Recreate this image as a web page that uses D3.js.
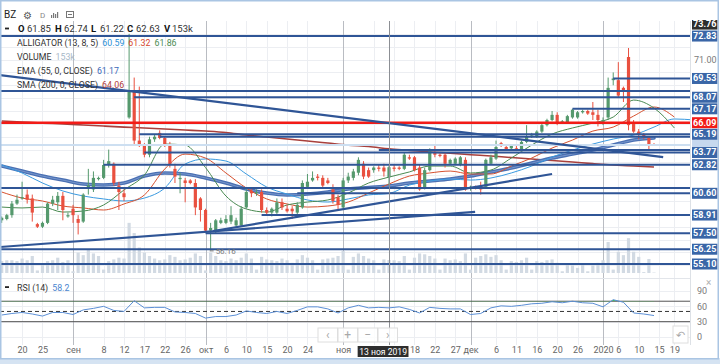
<!DOCTYPE html>
<html lang="ru">
<head>
<meta charset="UTF-8">
<meta name="viewport" content="width=device-width, initial-scale=1.0">
<title>BZ</title>
<style>
  html, body { margin: 0; padding: 0; background: #fff; overflow: hidden; }
  svg { display: block; font-family: Roboto, "Noto Sans", Arial, sans-serif; }
</style>
</head>
<body>
<svg id="chart" width="720" height="364"></svg>
<script src="https://d3js.org/d3.v7.min.js"></script>
<script>
// daily sessions from 15 Aug 2019, [open, high, low, close]
const candles = [
  [58.5,58.8,58.3,58.7],[58.6,59.0,58.5,58.9],[58.9,60.0,58.7,59.8],[59.8,60.5,59.7,60.1],[60.2,61.5,60.1,60.3],
  [60.5,60.9,59.8,60.1],[60.2,60.5,58.4,59.1],[58.2,58.3,57.9,58.0],[58.0,58.4,57.9,58.3],[58.3,59.9,58.2,59.8],
  [59.8,60.4,59.6,60.1],[59.9,60.7,59.3,60.4],[60.4,60.7,58.5,59.3],[58.8,59.1,58.7,58.9],[59.4,59.7,58.3,58.9],
  [58.6,58.9,57.4,58.3],[58.4,60.6,58.3,60.5],[61.0,62.5,60.5,61.2],[60.9,62.3,60.7,61.8],[61.7,61.9,61.6,61.8],
  [61.8,63.2,61.7,62.8],[62.8,64.0,62.6,63.1],[62.9,63.0,61.2,61.4],[61.2,61.5,59.3,60.7],[60.6,60.9,60.0,60.3],
  [66.5,73.0,66.4,68.5],[68.5,69.6,64.4,64.7],[64.7,68.9,64.2,64.4],[64.3,64.5,63.4,63.6],[63.6,65.0,63.4,64.8],
  [64.8,65.2,64.6,65.0],[65.3,65.5,64.8,64.9],[64.9,65.0,64.2,64.4],[64.4,64.6,62.6,62.8],[62.5,62.9,61.4,61.9],
  [61.7,62.2,60.6,61.8],[61.6,61.8,59.9,61.4],[61.6,61.7,61.3,61.4],[61.4,61.7,58.9,59.5],[60.2,60.3,58.4,59.3],
  [59.3,59.4,57.6,57.7],[57.7,58.3,56.16,57.9],[57.7,58.6,57.5,58.5],[58.3,58.7,58.2,58.5],[58.3,58.9,58.2,58.6],
  [58.4,59.6,58.2,58.9],[58.1,58.7,58.0,58.5],[58.1,59.6,58.0,59.4],[59.5,61.0,59.4,60.7],[60.8,61.0,60.3,60.6],
  [60.6,60.9,60.4,60.7],[60.7,60.9,59.1,59.3],[59.3,59.5,58.9,59.1],[59.1,59.5,58.8,59.4],[59.1,60.2,59.0,59.9],
  [59.9,60.2,59.3,59.5],[59.4,59.7,59.1,59.2],[59.4,59.6,58.6,59.2],[59.1,59.9,58.9,59.7],[59.5,61.6,59.4,61.4],
  [61.1,62.1,61.0,61.5],[61.6,62.3,61.5,61.8],[61.9,62.1,61.6,61.8],[61.8,62.0,61.0,61.2],[61.6,61.8,61.3,61.4],
  [60.9,61.3,59.8,60.0],[60.3,60.5,59.3,59.7],[59.5,61.8,59.4,61.6],[61.6,62.2,61.4,61.9],[61.8,62.5,61.6,62.3],
  [62.2,63.4,62.0,63.2],[62.9,63.1,61.7,61.9],[62.4,62.6,61.8,61.9],[62.4,62.7,62.2,62.6],[62.6,62.8,62.3,62.5],
  [62.6,62.9,61.9,62.3],[61.85,62.74,61.22,62.63],[62.6,62.8,62.3,62.5],[62.6,62.7,62.4,62.5],[62.5,63.8,62.4,63.6],
  [63.4,63.6,63.2,63.3],[63.4,63.5,62.3,62.4],[62.6,62.8,60.8,60.9],[61.0,62.6,60.9,62.4],[62.4,64.1,62.3,63.96],
  [63.8,64.3,63.4,63.6],[63.6,63.7,63.4,63.5],[63.6,63.8,62.6,62.9],[62.9,63.3,62.8,63.2],[62.9,63.4,62.8,63.3],
  [62.8,63.5,62.7,63.4],[63.2,63.4,60.8,60.9],[61.0,61.2,60.8,61.1],[61.1,61.2,60.9,61.0],[61.1,61.5,60.5,60.9],
  [61.1,63.3,61.0,63.2],[62.9,63.6,62.8,63.4],[63.3,64.7,63.2,64.2],[64.5,64.6,64.2,64.4],[64.2,64.4,63.9,64.0],
  [64.1,64.4,64.0,64.3],[64.1,64.3,63.9,64.0],[64.0,64.7,63.9,64.6],[64.6,65.9,64.5,65.0],[65.0,65.3,64.9,65.1],
  [65.0,65.5,64.9,65.4],[65.4,66.0,65.3,65.9],[65.9,66.4,65.8,66.3],[66.3,67.0,66.2,66.7],[66.7,66.9,65.9,66.1],
  [66.2,66.3,66.1,66.2],[66.1,66.7,66.0,66.6],[66.5,67.17,66.4,67.1],[66.5,67.0,66.4,66.9],[66.9,67.1,66.8,67.0],
  [67.0,67.1,66.7,66.8],[66.9,67.7,66.3,66.7],[66.7,67.1,65.8,66.3],[66.1,66.5,65.9,66.3],[66.5,69.6,66.3,68.8],
  [69.4,70.0,69.0,69.53],[69.4,70.8,68.0,68.2],[68.8,68.9,67.7,68.6],[71.2,71.9,65.5,65.9],[66.1,66.3,65.3,65.4],
  [65.4,65.6,64.8,65.2],[65.2,65.3,64.8,65.0],[64.9,65.0,64.0,64.4],[64.4,64.5,64.3,64.3]
];

// volume, thousands
const volumes = [
  140,150,150,140,170,150,200,30,110,140,150,180,130,
  150,20,240,210,280,230,200,40,140,160,180,170,590,
  470,300,240,200,170,150,160,210,190,150,160,180,230,
  200,30,240,200,150,140,170,150,180,230,170,40,190,
  160,150,140,170,150,120,160,210,180,150,40,160,170,
  180,200,260,40,190,230,200,170,150,40,160,153,150,
  140,200,40,180,230,220,200,170,40,170,150,160,140,
  230,40,180,200,220,190,210,150,40,140,130,150,180,
  40,140,130,150,160,120,20,110,90,60,110,20,90,
  120,150,365,40,250,210,410,250,190,10,165,5
];

// indicator lines, read every 4th session
const jaw = [62.80,62.18,61.40,60.78,60.39,60.16,60.00,60.23,61.01,62.88,63.27,63.11,62.10,61.09,60.54,60.08,59.92,60.16,
  60.47,60.59,61.24,61.55,61.71,61.63,61.79,62.18,62.72,63.42,63.96,64.43,64.82,65.13,65.75,66.38,66.30];
const teeth = [60.70,60.23,60.00,59.61,59.46,59.30,59.77,60.47,62.49,63.65,63.34,62.18,61.01,60.16,59.77,59.53,59.61,
  59.92,60.62,61.32,61.94,62.18,62.33,62.10,62.10,62.72,63.34,64.12,64.74,65.44,65.75,66.61,67.31,66.53];
const lips = [59.53,59.46,59.53,59.14,59.22,59.69,60.86,62.02,64.43,64.35,62.60,60.39,59.38,59.14,59.69,59.92,60.08,
  60.62,61.40,61.86,62.26,62.72,62.72,62.18,62.41,63.34,64.35,65.21,65.68,66.06,66.53,67.85,67.23,65.68];
const ema55 = [62.72,62.33,61.94,61.63,61.32,61.24,61.40,61.94,62.18,62.10,61.79,61.40,60.93,60.62,60.47,60.54,60.70,
  60.93,61.05,61.17,61.40,61.55,61.71,61.94,62.25,62.56,62.95,63.34,63.65,63.96,64.35,64.74,64.90];
const sma200 = [66.22,66.14,66.06,65.99,65.91,65.83,65.75,65.68,65.60,65.52,65.44,65.33,65.13,64.98,64.82,64.67,64.51,
  64.35,64.24,64.06,63.94,63.81,63.72,63.60,63.50,63.38,63.27,63.15,63.03,62.91,62.80,62.72,62.64];

// RSI(14), read every 2nd session
const rsi14 = [43,46,48,45,41,48,48,44,53,56,60,52,50,71,57,58,58,49,48,46,37,40,40,43,51,48,46,50,46,52,59,59,55,47,57,
  62,57,58,57,59,54,47,58,56,55,55,44,46,57,61,60,62,65,66,69,67,70,67,66,59,73,68,47,45,42];

// drawn levels: price and the session where the line starts (-1 = from the left edge)
const labelledLevels = [72.83, 69.53, 68.07, 67.17, 66.09, 65.19, 63.77, 62.82, 60.60, 58.91, 57.50, 56.25, 55.10];
const labelledFrom = [-1, 120, 26, 112, -1, 27, 28, 20, 58, 51, 40, -1, -1];
const plainLevels = [68.55, 65.00, 63.96, 61.01];
const plainFrom = [-1, 31, 74, -1];
const faintLevel = 64.35;
const redLevel = 66.09;
const highMarker = 73.76;
const lowMarker = 56.16;
const lowSession = 41;

// trend lines: [session, price] pairs
const trendStart = [[-0.4, 69.80], [-0.4, 56.42], [41.5, 57.67]];
const trendEnd = [[129.8, 63.42], [92.9, 59.15], [108, 62.10]];

const tickLabels = ["20","25","сен","8","12","17","22","26","окт","6","10","15","20","24","ноя","8","13","18","22","27",
  "дек","6","11","16","20","26","2020","6","10","15","19"];
const tickDates = ["2019-08-20","2019-08-25","2019-09-01","2019-09-08","2019-09-12","2019-09-17","2019-09-22","2019-09-26",
  "2019-10-01","2019-10-06","2019-10-10","2019-10-15","2019-10-20","2019-10-24","2019-11-01","2019-11-08","2019-11-13",
  "2019-11-18","2019-11-22","2019-11-27","2019-12-01","2019-12-06","2019-12-11","2019-12-16","2019-12-20","2019-12-26",
  "2020-01-01","2020-01-06","2020-01-10","2020-01-15","2020-01-19"];
const monthLabels = ["сен", "окт", "ноя", "дек", "2020"];
const closedDays = ["2019-12-25", "2020-01-01"];
const cursorSession = 76;
const cursorLabel = "13 ноя 2019";
const rsiTicks = [90, 60, 30, 0];

// ---- layout ----
const svg = d3.select("#chart");
const plotRight = 690, plotTop = 21, plotBottom = 277;
const rsiTop = 280, rsiBottom = 345;

const fmt = d3.timeFormat("%Y-%m-%d");
const sessions = d3.timeDays(new Date(2019, 7, 15), new Date(2020, 0, 25))
  .filter(d => d.getDay() !== 6 && !closedDays.includes(fmt(d)))
  .map(fmt);
const sessionOf = key => sessions.findIndex(s => s >= key);
const tickIdx = tickDates.map(sessionOf);

const x = d3.scaleLinear().domain([0, 128]).range([1.7, 654]);
const y = d3.scaleLinear().domain([54.09, 74.0]).range([plotBottom, plotTop]);
const yVol = d3.scaleLinear().domain([0, 600]).range([273, 222]);
const yRsi = d3.scaleLinear().domain([0, 100]).range([337, 285.9]);

const defs = svg.append("defs");
defs.append("clipPath").attr("id", "clip-main")
  .append("rect").attr("x", 0).attr("y", plotTop).attr("width", plotRight).attr("height", plotBottom - plotTop);
defs.append("clipPath").attr("id", "clip-rsi")
  .append("rect").attr("x", 0).attr("y", rsiTop).attr("width", plotRight).attr("height", rsiBottom - rsiTop);
defs.append("clipPath").attr("id", "clip-ob")
  .append("rect").attr("x", 0).attr("y", rsiTop).attr("width", plotRight).attr("height", yRsi(70) - rsiTop);

svg.append("rect").attr("width", 720).attr("height", 364).attr("fill", "#fff");

// grid
const grid = svg.append("g");
grid.selectAll(".hg").data(d3.range(55, 74)).join("line")
  .attr("x1", 0).attr("x2", plotRight)
  .attr("y1", d => Math.round(y(d)) + 0.5).attr("y2", d => Math.round(y(d)) + 0.5)
  .attr("stroke", "#eceef2");
grid.selectAll(".rg").data(rsiTicks).join("line")
  .attr("x1", 0).attr("x2", plotRight)
  .attr("y1", d => Math.round(yRsi(d)) + 0.5).attr("y2", d => Math.round(yRsi(d)) + 0.5)
  .attr("stroke", "#eceef2");
grid.selectAll(".vg").data(tickIdx).join("line")
  .attr("x1", d => Math.round(x(d)) + 0.5).attr("x2", d => Math.round(x(d)) + 0.5)
  .attr("y1", plotTop).attr("y2", rsiBottom)
  .attr("stroke", (d, i) => monthLabels.includes(tickLabels[i]) ? "#b9bcc2" : "#eceef2");
svg.append("line").attr("x1", 0).attr("x2", 720).attr("y1", 278.5).attr("y2", 278.5).attr("stroke", "#e2e5ea");

const main = svg.append("g").attr("clip-path", "url(#clip-main)");

// volume
main.append("g").selectAll("rect").data(volumes).join("rect")
  .attr("x", (d, i) => x(i) - 1.6).attr("width", 3.2)
  .attr("y", d => yVol(d)).attr("height", d => yVol(0) - yVol(d))
  .attr("fill", "#d2dae3");

// indicators
const line4 = d3.line().x((d, i) => x(i * 4)).y(d => y(d)).curve(d3.curveMonotoneX);
main.append("path").attr("d", line4(sma200)).attr("fill", "none").attr("stroke", "#a8403c").attr("stroke-width", 1.6);
main.append("path").attr("d", line4(ema55)).attr("fill", "none").attr("stroke", "#4a70b3").attr("stroke-width", 3.6)
  .attr("stroke-linecap", "round");
main.append("path").attr("d", line4(ema55)).attr("fill", "none").attr("stroke", "#7897cc").attr("stroke-width", 1);
main.append("path").attr("d", line4(jaw)).attr("fill", "none").attr("stroke", "#3a9ae0").attr("stroke-width", 1);
main.append("path").attr("d", line4(teeth)).attr("fill", "none").attr("stroke", "#d6512f").attr("stroke-width", 1);
main.append("path").attr("d", line4(lips)).attr("fill", "none").attr("stroke", "#4a8a52").attr("stroke-width", 1);

// candles
const upCol = "#55996d", downCol = "#e9503f";
const candle = main.append("g").selectAll("g").data(candles).join("g")
  .attr("stroke", d => d[3] >= d[0] ? upCol : downCol)
  .attr("fill", d => d[3] >= d[0] ? upCol : downCol);
candle.append("line")
  .attr("x1", (d, i) => x(i)).attr("x2", (d, i) => x(i))
  .attr("y1", d => y(d[1])).attr("y2", d => y(d[2]));
candle.append("rect")
  .attr("x", (d, i) => x(i) - 1.6).attr("width", 3.2)
  .attr("y", d => y(Math.max(d[0], d[3])))
  .attr("height", d => Math.max(1, Math.abs(y(d[0]) - y(d[3]))))
  .attr("stroke", "none");

// drawn levels and trend lines
const levelX = s => s < 0 ? 0 : x(s);
main.append("line").attr("x1", 0).attr("x2", plotRight)
  .attr("y1", y(faintLevel)).attr("y2", y(faintLevel)).attr("stroke", "#cddff1").attr("stroke-width", 2);
main.append("g").selectAll("line").data(plainLevels).join("line")
  .attr("x1", (d, i) => levelX(plainFrom[i])).attr("x2", plotRight)
  .attr("y1", d => y(d)).attr("y2", d => y(d))
  .attr("stroke", "#2f5596").attr("stroke-width", 2);
main.append("g").selectAll("line").data(labelledLevels).join("line")
  .attr("x1", (d, i) => levelX(labelledFrom[i])).attr("x2", plotRight)
  .attr("y1", d => y(d)).attr("y2", d => y(d))
  .attr("stroke", d => d === redLevel ? "#f21b17" : "#2f5596")
  .attr("stroke-width", d => d === redLevel ? 2.4 : 2);
main.append("g").selectAll("line").data(trendStart).join("line")
  .attr("x1", d => x(d[0])).attr("y1", d => y(d[1]))
  .attr("x2", (d, i) => x(trendEnd[i][0])).attr("y2", (d, i) => y(trendEnd[i][1]))
  .attr("stroke", "#2f5596").attr("stroke-width", 2.2);

// cursor and low marker
svg.append("line").attr("x1", Math.round(x(cursorSession)) + 0.5).attr("x2", Math.round(x(cursorSession)) + 0.5)
  .attr("y1", plotTop).attr("y2", rsiBottom).attr("stroke", "#8c8f94");
svg.append("line").attr("x1", x(lowSession) - 1).attr("x2", x(lowSession) + 3)
  .attr("y1", y(lowMarker) + 0.5).attr("y2", y(lowMarker) + 0.5).attr("stroke", "#777");
svg.append("text").attr("x", x(lowSession) + 5).attr("y", y(lowMarker) + 3.5)
  .attr("font-size", 8).attr("fill", "#777").text(lowMarker.toFixed(2));

// legend rows: label followed by coloured values
function legendRow(g, x0, y0, label, values) {
  const t = g.append("text").attr("x", x0).attr("y", y0).text(label);
  let cx = x0 + t.node().getComputedTextLength() + 4;
  values.forEach(([txt, col]) => {
    const v = g.append("text").attr("x", cx).attr("y", y0).attr("fill", col).text(txt);
    cx += v.node().getComputedTextLength() + 4;
  });
}
const legend = svg.append("g").attr("font-size", 9.5).attr("fill", "#333");
legend.append("rect").attr("x", 5).attr("y", 27.6).attr("width", 4).attr("height", 1.8).attr("fill", "#222");
const ohlc = [["O", candles[cursorSession][0]], ["H", candles[cursorSession][1]],
  ["L", candles[cursorSession][2]], ["C", candles[cursorSession][3]]];
const ohlcX = [18, 55, 91, 127];
ohlc.forEach(([k, v], i) => {
  legend.append("text").attr("x", ohlcX[i]).attr("y", 32).attr("font-weight", "bold").attr("fill", "#111").text(k);
  legend.append("text").attr("x", ohlcX[i] + 9).attr("y", 32).attr("fill", "#333").text(v.toFixed(2));
});
legend.append("text").attr("x", 164).attr("y", 32).attr("font-weight", "bold").attr("fill", "#111").text("V");
legend.append("text").attr("x", 172).attr("y", 32).text(volumes[cursorSession] + "k");

const rows = svg.append("g").attr("font-size", 8.8).attr("fill", "#333");
legendRow(rows, 17, 46, "ALLIGATOR (13, 8, 5)",
  [[jaw[19].toFixed(2), "#2b8fd6"], [teeth[19].toFixed(2), "#d6462a"], [lips[19].toFixed(2), "#4a8a52"]]);
legendRow(rows, 17, 60, "VOLUME", [[volumes[cursorSession] + "k", "#a8b8c8"]]);
legendRow(rows, 17, 74, "EMA (55, 0, CLOSE)", [[ema55[19].toFixed(2), "#3b68b8"]]);
legendRow(rows, 17, 88, "SMA (200, 0, CLOSE)", [[sma200[19].toFixed(2), "#b03b38"]]);

// price axis
svg.append("rect").attr("x", plotRight + 0.5).attr("y", plotTop).attr("width", 720 - plotRight).attr("height", 340)
  .attr("fill", "#fff");
svg.append("line").attr("x1", plotRight + 0.5).attr("x2", plotRight + 0.5).attr("y1", plotTop).attr("y2", rsiBottom)
  .attr("stroke", "#dde1e6");
const boxes = labelledLevels.concat([highMarker]);
const freeTicks = d3.range(55, 74).filter(p => boxes.concat([faintLevel]).every(b => Math.abs(y(p) - y(b)) > 11));
svg.append("g").selectAll("text").data(freeTicks).join("text")
  .attr("x", 694).attr("y", d => y(d) + 3.2)
  .attr("font-size", 9).attr("fill", "#7a7a7a").text(d => d.toFixed(2));
svg.append("rect").attr("x", 692).attr("y", y(faintLevel) - 5.5).attr("width", 25.5).attr("height", 11)
  .attr("fill", "#c6d8ee");
const box = svg.append("g").selectAll("g").data(boxes).join("g")
  .attr("transform", d => `translate(692,${y(d) - 5.5})`);
box.append("rect").attr("width", 25.5).attr("height", 11)
  .attr("fill", d => d === highMarker ? "#2e2e2e" : d === redLevel ? "#f21b17" : "#3a66a7");
box.append("text").attr("x", 12.75).attr("y", 8.3).attr("text-anchor", "middle")
  .attr("font-size", 9).attr("font-weight", "bold").attr("fill", "#fff").text(d => d.toFixed(2));

// RSI pane
const rsiG = svg.append("g");
[70, 30].forEach(v => rsiG.append("line").attr("x1", 0).attr("x2", plotRight)
  .attr("y1", yRsi(v)).attr("y2", yRsi(v)).attr("stroke", "#555"));
rsiG.append("line").attr("x1", 0).attr("x2", plotRight).attr("y1", yRsi(50)).attr("y2", yRsi(50))
  .attr("stroke", "#333").attr("stroke-dasharray", "4,3");
rsiG.append("path")
  .attr("d", d3.area().x((d, i) => x(i * 2)).y0(yRsi(70)).y1(d => yRsi(d))(rsi14))
  .attr("fill", "#3dc94c").attr("clip-path", "url(#clip-ob)");
rsiG.append("path")
  .attr("d", d3.line().x((d, i) => x(i * 2)).y(d => yRsi(d))(rsi14))
  .attr("fill", "none").attr("stroke", "#5b8fd6").attr("stroke-width", 1).attr("clip-path", "url(#clip-rsi)");
rsiG.selectAll(".rt").data(rsiTicks).join("text")
  .attr("x", 697).attr("y", d => yRsi(d) + 3.2).attr("font-size", 9).attr("fill", "#7a7a7a").text(d => d);
rsiG.append("rect").attr("x", 5).attr("y", 286.2).attr("width", 4).attr("height", 1.8).attr("fill", "#222");
const rsiLegend = rsiG.append("g").attr("font-size", 8.8).attr("fill", "#333");
legendRow(rsiLegend, 17, 290.5, "RSI (14)", [["58.2", "#4a86cf"]]);
rsiG.append("text").attr("x", 706).attr("y", 285.5).attr("font-size", 10).attr("fill", "#b0b0b0").text("×");

// chart buttons
const buttons = ["‹", "+", "−", "›"];
const btn = rsiG.selectAll(".btn").data(buttons).join("g").attr("transform", (d, i) => `translate(${318 + i * 20},328)`);
btn.append("rect").attr("width", 19.5).attr("height", 14).attr("fill", "#fff").attr("fill-opacity", 0.85)
  .attr("stroke", "#dedede");
btn.append("text").attr("x", 9.75).attr("y", 11).attr("text-anchor", "middle").attr("font-size", 12)
  .attr("fill", "#a8a8a8").text(d => d);
rsiG.append("rect").attr("x", 673).attr("y", 326).attr("width", 15).attr("height", 17).attr("fill", "#fff")
  .attr("stroke", "#dedede");
rsiG.append("text").attr("x", 680.5).attr("y", 339).attr("text-anchor", "middle").attr("font-size", 11)
  .attr("fill", "#a8a8a8").text("↶");

// time axis; labels under the cursor box stay hidden, as in the widget
const cx = x(cursorSession);
const hidden = d => Math.abs(x(d) - cx) < 21;
const xAxis = d3.axisBottom(x).tickValues(tickIdx)
  .tickFormat((d, i) => hidden(d) ? "" : tickLabels[i]).tickSize(0).tickPadding(0);
const ax = svg.append("g").attr("transform", "translate(0,347)").call(xAxis);
ax.select(".domain").remove();
ax.selectAll("text").attr("font-size", 9).attr("fill", "#666").attr("font-family", "Roboto, sans-serif");

// cursor date box sized to its text, kept clear of the next visible label
const nextTick = d3.min(tickIdx.filter(d => !hidden(d) && x(d) > cx), d => x(d));
const curBox = svg.append("rect").attr("y", 346).attr("height", 11).attr("fill", "#2e2e2e");
const curText = svg.append("text").attr("y", 354.6).attr("text-anchor", "middle").attr("font-size", 8.6)
  .attr("fill", "#fff").text(cursorLabel);
const tw = curText.node().getComputedTextLength() + 3;
const boxRight = Math.min(cx + tw / 2, nextTick - 6);
curBox.attr("x", boxRight - tw).attr("width", tw);
curText.attr("x", boxRight - tw / 2);

// toolbar
svg.append("rect").attr("x", 0).attr("y", 0).attr("width", 720).attr("height", 20).attr("fill", "#fff");
svg.append("text").attr("x", 4).attr("y", 18).attr("font-size", 10).attr("fill", "#222").text("BZ");
svg.append("text").attr("x", 23).attr("y", 18.5).attr("font-size", 10).attr("fill", "#555").text("⚙");
svg.append("text").attr("x", 40).attr("y", 18).attr("font-size", 8).attr("fill", "#888").text("D");
[3, 5, 4, 6].forEach((h, i) => svg.append("rect").attr("x", 51 + i * 2).attr("y", 18 - h)
  .attr("width", 1.2).attr("height", h).attr("fill", "#777"));
svg.append("rect").attr("x", 66.5).attr("y", 11.5).attr("width", 7).attr("height", 6)
  .attr("fill", "none").attr("stroke", "#777");
svg.append("line").attr("x1", 68).attr("x2", 72).attr("y1", 14.5).attr("y2", 14.5).attr("stroke", "#777");

// widget frame
svg.append("rect").attr("x", 0).attr("y", 358).attr("width", 720).attr("height", 6).attr("fill", "#d5e3f2");
svg.append("rect").attr("x", 0.75).attr("y", 0.75).attr("width", 717.5).attr("height", 358)
  .attr("fill", "none").attr("stroke", "#aac5e3").attr("stroke-width", 1.5);
</script>
</body>
</html>
